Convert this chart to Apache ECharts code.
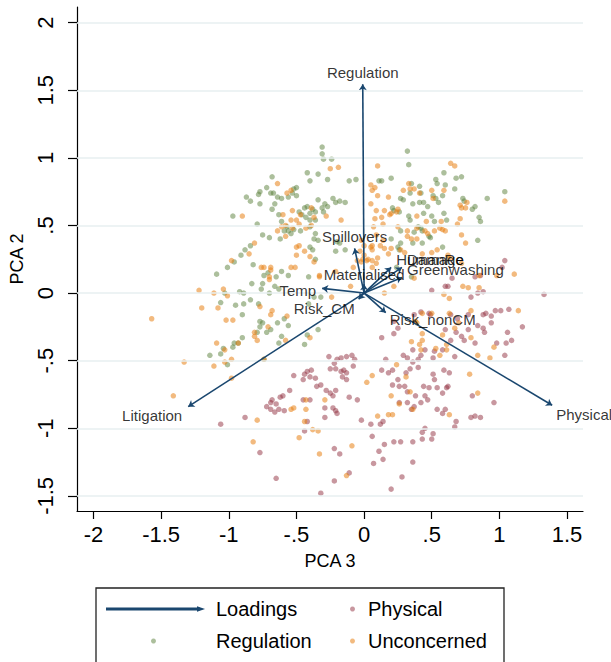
<!DOCTYPE html>
<html><head><meta charset="utf-8">
<script src="https://cdn.jsdelivr.net/npm/echarts@6/dist/echarts.min.js"></script>
<style>html,body{margin:0;padding:0;background:#fff}#c{width:611px;height:662px}</style>
</head><body><div id="c"></div>
<script>
// ---- tick values and labels ----
const xTicks = [-2, -1.5, -1, -0.5, 0, 0.5, 1, 1.5];
const xTickLabels = ['-2', '-1.5', '-1', '-.5', '0', '.5', '1', '1.5'];
const yTicks = [-1.5, -1, -0.5, 0, 0.5, 1, 1.5, 2];
const yTickLabels = ['-1.5', '-1', '-.5', '0', '.5', '1', '1.5', '2'];

// ---- loadings (arrows) ----
const loadNames = ['Regulation', 'Litigation', 'Physical', 'Temp', 'Spillovers', 'Materialised', 'HumanRe', 'Damage', 'Greenwashing', 'Risk_CM', 'Risk_nonCM'];
const loadX = [-0.01, -1.30, 1.39, -0.31, -0.07, 0.00, 0.20, 0.28, 0.28, -0.04, 0.16];
const loadY = [1.545, -0.84, -0.83, 0.035, 0.33, 0.065, 0.19, 0.19, 0.115, -0.045, -0.145];

// ---- scores by group ----
const regulationPts = [
[-0.31,1.08],[-0.31,1.03],[-0.30,0.99],[-0.24,0.99],[-0.42,0.89],[-0.34,0.88],[-0.40,0.83],[-0.27,0.84],[-0.68,0.86],[-0.72,0.78],[-0.77,0.75],[-0.78,0.73],[-0.69,0.74],[-0.67,0.74],[-0.64,0.71],[-0.61,0.70],[-0.56,0.71],[-0.53,0.74],[-0.52,0.77],[-0.50,0.78],[-0.50,0.72],[-0.87,0.71],[-0.84,0.68],[-0.77,0.66],[-0.66,0.66],[-0.68,0.62],[-0.34,0.69],[-0.23,0.70],[-0.21,0.67],[-0.18,0.68],[-0.14,0.67],[-0.29,0.66],[-0.31,0.63],[-0.27,0.64],[-0.44,0.63],[-0.42,0.64],[-0.38,0.62],[-0.36,0.60],[-0.40,0.59],[-0.30,0.60],[-0.63,0.58],[-0.61,0.53],[-0.48,0.60],[-0.46,0.58],[-0.43,0.56],[-0.40,0.54],[-0.40,0.49],[-0.36,0.54],[-0.97,0.57],[-0.79,0.51],[-0.75,0.43],[-0.70,0.41],[-0.62,0.40],[-0.54,0.44],[-0.52,0.47],[-0.59,0.46],[-0.57,0.49],[-0.56,0.46],[-0.47,0.46],[-0.36,0.44],[-0.37,0.40],[-0.34,0.39],[-0.40,0.34],[-0.38,0.32],[-0.36,0.25],[-0.20,0.38],[-0.18,0.37],[-0.14,0.32],[-0.21,0.31],[-0.11,0.83],[-0.06,0.84],[0.11,0.83],[-0.84,0.35],[-0.88,0.32],[-0.91,0.28],[-0.96,0.23],[-1.01,0.19],[-1.09,0.14],[-0.82,0.21],[-0.74,0.13],[-0.71,0.15],[-0.65,0.12],[-0.61,0.16],[-0.56,0.13],[-0.41,0.12],[-0.83,0.07],[-0.75,0.07],[-0.76,0.03],[-0.66,0.05],[-0.63,0.03],[-0.70,0.00],[-1.03,0.00],[-0.92,0.01],[-0.89,0.00],[-1.06,-0.07],[-0.95,-0.09],[-0.89,-0.08],[-0.84,-0.05],[-0.78,-0.08],[-0.41,-0.08],[-0.37,-0.03],[-0.32,-0.03],
[0.32,1.05],[0.33,0.95],[0.59,0.89],[0.53,0.84],[0.54,0.81],[0.60,0.80],[0.68,0.85],[0.72,0.86],[0.67,0.77],[0.41,0.79],[0.34,0.74],[0.35,0.81],[0.27,0.70],[0.29,0.69],[0.36,0.66],[0.42,0.74],[0.41,0.67],[0.44,0.67],[0.47,0.64],[0.51,0.72],[0.53,0.70],[0.55,0.67],[0.58,0.72],[0.59,0.59],[0.44,0.59],[0.50,0.57],[0.52,0.53],[0.61,0.54],[0.33,0.57],[0.34,0.54],[0.20,0.85],[0.13,0.83],[0.73,0.70],[0.74,0.68],[0.80,0.62],[0.82,0.64],[0.85,0.56],[0.86,0.53],[0.91,0.70],[1.04,0.75],[0.21,0.63],[0.22,0.61],[0.26,0.60],[0.27,0.46],[0.37,0.45],[0.40,0.49],[0.42,0.48],[0.43,0.46],[0.48,0.42],[0.49,0.41],[0.84,0.39],[0.58,0.34],[0.43,0.37],[0.36,0.37],[0.27,0.37],[0.25,0.34],[0.24,0.19],[0.35,0.12],[0.26,0.32],[0.20,0.40],
[-0.90,-0.16],[-0.77,-0.21],[-0.75,-0.22],[-0.77,-0.25],[-0.79,-0.29],[-0.72,-0.29],[-0.69,-0.27],[-0.64,-0.22],[-0.59,-0.19],[-0.56,-0.24],[-0.61,-0.32],[-0.63,-0.37],[-0.90,-0.33],[-0.96,-0.37],[-0.93,-0.37],[-0.97,-0.40],[-1.04,-0.41],[-1.06,-0.45],[-1.14,-0.46],[-1.01,-0.53],[-0.74,-0.49],[-0.44,-0.38],[-0.42,-0.31],[-0.34,-0.27]
];
const unconcernedPts = [
[-0.64,0.81],[-0.57,0.74],[-0.54,0.76],[-0.90,0.57],[-0.60,0.58],[-0.54,0.54],[-0.50,0.54],[-0.47,0.58],[-0.39,0.63],[-0.37,0.56],[-0.53,0.61],[-0.28,0.57],[-0.17,0.54],[-0.61,0.49],[-0.58,0.50],[-0.53,0.48],[-0.48,0.51],[-0.43,0.48],[-0.39,0.50],[-0.64,0.46],[-0.58,0.42],[-0.50,0.34],[-0.48,0.35],[-0.50,0.28],[-0.40,0.27],[-0.37,0.23],[-0.44,0.31],[-0.81,0.37],[-0.85,0.29],[-0.98,0.24],[-0.76,0.19],[-0.74,0.19],[-0.69,0.19],[-0.69,0.17],[-0.54,0.19],[-0.51,0.19],[-0.70,0.12],[-0.70,0.10],[-0.33,0.13],[-0.21,0.16],[-0.10,0.05],[-0.08,0.19],[-0.02,0.23],[-0.05,0.24],[-0.01,0.25],[0.02,0.24],[-0.03,0.31],[0.00,0.28],[0.03,0.25],[0.06,0.24],[0.09,0.22],[0.06,0.19],[0.10,0.26],[0.06,0.32],[0.05,0.34],[-0.02,0.39],[0.00,0.35],[0.06,0.35],[0.12,0.35],[0.09,0.43],[0.07,0.49],[0.08,0.55],[0.09,0.61],[0.05,0.66],[0.10,0.72],[0.06,0.76],[0.08,0.78],[0.05,0.80],[0.10,0.94],[-0.19,0.93],[-0.25,0.92],[-1.22,0.02],[-0.24,-0.03],[-1.04,0.03],[-1.11,0.00],[-1.01,-0.02],[-1.20,-0.11],[-1.08,-0.11],[-0.77,-0.10],[-0.33,0.12],
[0.64,0.96],[0.67,0.94],[0.33,0.81],[0.34,0.77],[0.37,0.77],[0.29,0.76],[0.18,0.71],[0.41,0.74],[0.50,0.76],[0.59,0.76],[0.51,0.70],[0.76,0.67],[0.71,0.65],[0.75,0.63],[0.72,0.63],[1.04,0.68],[0.25,0.62],[0.24,0.60],[0.20,0.59],[0.15,0.61],[0.13,0.56],[0.19,0.58],[0.39,0.57],[0.46,0.53],[0.57,0.53],[0.71,0.55],[0.69,0.51],[0.14,0.51],[0.25,0.49],[0.32,0.46],[0.39,0.48],[0.45,0.46],[0.47,0.44],[0.52,0.46],[0.56,0.48],[0.58,0.47],[0.60,0.46],[0.72,0.43],[0.75,0.37],[0.32,0.42],[0.35,0.40],[0.39,0.40],[0.14,0.39],[0.15,0.33],[0.20,0.33],[0.27,0.32],[0.30,0.30],[0.18,0.29],[0.43,0.29],[0.50,0.30],[0.54,0.32],[0.62,0.28],[0.63,0.26],[0.72,0.22],[0.37,0.11],[0.22,0.05],[0.15,0.00],[0.98,0.13],[1.11,0.14],[0.73,0.05],[0.77,0.04],[0.85,0.04],[0.85,0.13],[0.59,-0.01],[0.63,-0.04],
[0.43,-0.15],[0.50,-0.15],[0.63,-0.15],[0.79,-0.13],[0.79,-0.33],[0.70,-0.22],[0.67,-0.26],[0.58,-0.31],[0.43,-0.30],[0.43,-0.35],[0.41,-0.38],[0.42,-0.42],[0.35,-0.36],[0.38,-0.21],[0.39,-0.22],[0.53,-0.41],[0.56,-0.46],[0.61,-0.38],[0.61,-0.42],[0.84,-0.46],[0.93,-0.48],[0.96,-0.40],[0.24,-0.53],[0.31,-0.62],[0.34,-0.73],[0.20,-0.76],[0.26,-0.82],[0.18,-0.90],[0.21,-0.90],[0.36,-0.86],[0.63,-0.90],[0.78,-0.60],[0.84,-0.74],[1.14,-0.13],
[-0.43,-0.79],[-0.29,-0.79],[-0.52,-0.85],[-0.54,-0.86],[-0.43,-0.86],[-0.44,-0.95],[-0.38,-1.01],[-0.34,-1.02],[-0.48,-1.07],[-0.82,-1.10],[-0.79,-0.94],[-0.33,-1.19],[-0.13,-1.35],[-0.09,-1.13],[0.02,-0.66],[0.06,-0.61],[0.10,-0.91],
[-1.02,-0.20],[-0.97,-0.20],[-0.68,-0.13],[-0.69,-0.16],[-0.57,-0.17],[-0.71,-0.25],[-0.81,-0.32],[-0.79,-0.35],[-0.81,-0.29],[-0.58,-0.35],[-0.40,-0.33],[-1.09,-0.37],[-1.03,-0.42],[-1.03,-0.51],[-0.98,-0.49],[-1.11,-0.54],[-0.93,-0.37],[-1.33,-0.51],[-0.98,-0.63],[-0.74,-0.49],
[-1.57,-0.19],[-1.41,-0.76]
];
const physicalPts = [
[1.04,0.24],[0.65,0.11],[0.82,0.12],[0.86,0.13],[0.50,0.02],[0.60,0.05],[0.62,0.05],[0.79,-0.03],[0.84,0.00],[0.88,0.01],[1.02,0.19],[1.33,-0.01],
[0.42,-0.14],[0.48,-0.15],[0.37,-0.16],[0.49,-0.16],[0.64,-0.16],[0.69,-0.19],[0.77,-0.16],[0.88,-0.16],[0.90,-0.15],[0.97,-0.13],[0.94,-0.17],[1.01,-0.13],[1.07,-0.12],[1.17,-0.25],[1.06,-0.29],[1.09,-0.35],[1.05,-0.37],[0.98,-0.37],[0.77,-0.27],[0.84,-0.24],[0.88,-0.26],[0.94,-0.22],[0.89,-0.29],[0.72,-0.32],[0.74,-0.35],[0.82,-0.37],[0.60,-0.27],[0.68,-0.29],[0.64,-0.35],[0.58,-0.42],[0.52,-0.43],[0.51,-0.48],[0.45,-0.42],[0.42,-0.46],[0.36,-0.42],[0.29,-0.46],[0.32,-0.48],[0.36,-0.51],[0.40,-0.49],[0.40,-0.55],[0.34,-0.56],[0.31,-0.59],[0.25,-0.64],[0.21,-0.57],[0.18,-0.59],[0.16,-0.49],[0.13,-0.57],[0.26,-0.69],[0.21,-0.68],[0.30,-0.69],[0.32,-0.73],[0.26,-0.81],[0.32,-0.81],[0.35,-0.86],[0.37,-0.84],[0.38,-0.76],[0.42,-0.81],[0.45,-0.76],[0.47,-0.79],[0.44,-0.69],[0.48,-0.70],[0.54,-0.70],[0.58,-0.74],[0.61,-0.70],[0.62,-0.69],[0.59,-0.57],[0.63,-0.59],[0.51,-0.60],[0.52,-0.64],[0.67,-0.47],[0.80,-0.76],[0.68,-0.95],[0.67,-0.99],[0.54,-0.86],[0.58,-0.89],[0.60,-0.86],[0.45,-1.00],[0.43,-1.03],[0.51,-1.04],[0.50,-1.08],[0.43,-1.08],[0.36,-1.10],[0.27,-1.10],[0.22,-1.10],[0.79,-0.92],[0.82,-0.91],[0.86,-0.92],[0.96,-0.81],[0.20,-1.45],[0.28,-1.36],[0.36,-1.25],[0.14,-1.23],[0.15,-1.12],[0.14,-0.95],[0.22,-0.30],[0.25,-0.26],[0.22,-0.21],[0.13,-0.33],[1.04,-0.46],
[-0.26,-0.47],[-0.22,-0.52],[-0.20,-0.49],[-0.17,-0.48],[-0.13,-0.47],[-0.09,-0.46],[-0.07,-0.49],[-0.08,-0.54],[-0.21,-0.56],[-0.25,-0.56],[-0.15,-0.57],[-0.17,-0.58],[-0.13,-0.59],[-0.16,-0.62],[-0.13,-0.64],[-0.42,-0.58],[-0.39,-0.57],[-0.44,-0.60],[-0.40,-0.62],[-0.45,-0.64],[-0.36,-0.63],[-0.52,-0.61],[-0.32,-0.68],[-0.35,-0.69],[-0.28,-0.72],[-0.21,-0.72],[-0.25,-0.74],[-0.23,-0.76],[-0.11,-0.77],[-0.05,-0.79],[-0.55,-0.72],[-0.60,-0.76],[-0.62,-0.77],[-0.68,-0.79],[-0.69,-0.81],[-0.65,-0.82],[-0.72,-0.84],[-0.69,-0.86],[-0.66,-0.88],[-0.63,-0.86],[-0.59,-0.87],[-0.45,-0.79],[-0.40,-0.79],[-0.29,-0.85],[-0.23,-0.85],[-0.21,-0.87],[-0.20,-0.89],[-0.29,-0.92],[-0.42,-0.95],[-0.44,-1.02],[-0.02,-0.94],[0.05,-0.97],[0.12,-0.97],[0.06,-1.06],[0.11,-1.17],[0.07,-1.26],[-0.22,-1.15],[-0.18,-1.19],[-0.88,-0.92],[-1.06,-0.97],[-0.77,-1.18],[-0.22,-1.39],[-0.11,-1.33],[-0.65,-1.37],[-0.32,-1.48]
];

// ---- styles ----
const FONT = '"Liberation Sans", Arial, Helvetica, sans-serif';
const NAVY = '#1a476f';
const labelStyleByName = {
  Regulation:   { position: 'top', distance: 4 },
  Litigation:   { position: 'left', distance: 6, offset: [0, 9] },
  Physical:     { position: 'right', distance: 4, offset: [0, 9] },
  Temp:         { position: 'left', distance: 6, offset: [0, 2] },
  Spillovers:   { position: 'top', distance: 4 },
  Materialised: { position: 'top', distance: 2 },
  HumanRe:      { position: 'right', distance: 5, offset: [0, -8] },
  Damage:       { position: 'right', distance: 5, offset: [0, -8] },
  Greenwashing: { position: 'right', distance: 5, offset: [0, -8] },
  Risk_CM:      { position: 'left', distance: 4, offset: [0, 9] },
  Risk_nonCM:   { position: 'right', distance: 4, offset: [0, 7] }
};
function fmt(ticks, labels) {
  return function (v) {
    for (let i = 0; i < ticks.length; i++) if (Math.abs(ticks[i] - v) < 1e-9) return labels[i];
    return '';
  };
}

const chart = echarts.init(document.getElementById('c'), null, { renderer: 'svg', width: 611, height: 662 });
const dot = (name, color) => ({
  type: 'scatter', name: name, symbol: 'circle', symbolSize: 5.5, z: 3,
  itemStyle: { color: color, borderWidth: 0 },
  data: ({ Physical: physicalPts, Regulation: regulationPts, Unconcerned: unconcernedPts })[name]
});
const legendText = (pad) => ({ fontSize: 20, color: '#000', fontFamily: FONT, padding: [0, 0, 0, pad] });

const option = {
  animation: false,
  backgroundColor: '#ffffff',
  textStyle: { fontFamily: FONT },
  grid: { left: 77, right: 28, top: 7, bottom: 151, containLabel: false },
  xAxis: {
    type: 'value', min: -2.122, max: 1.618,
    name: 'PCA 3', nameLocation: 'middle', nameGap: 41,
    nameTextStyle: { fontSize: 18, color: '#000', fontFamily: FONT },
    axisLine: { show: true, onZero: false, lineStyle: { color: '#000', width: 1.2 } },
    axisTick: { show: true, length: 8, customValues: xTicks, lineStyle: { color: '#000', width: 1.2 } },
    axisLabel: { customValues: xTicks, formatter: fmt(xTicks, xTickLabels), fontSize: 22, color: '#000', margin: 12, fontFamily: FONT },
    splitLine: { show: false }
  },
  yAxis: {
    type: 'value', min: -1.612, max: 2.116,
    name: 'PCA 2', nameLocation: 'middle', nameGap: 40, nameRotate: 90,
    nameTextStyle: { fontSize: 18, color: '#000', fontFamily: FONT },
    axisLine: { show: true, onZero: false, lineStyle: { color: '#000', width: 1.2 } },
    axisTick: { show: true, length: 9, customValues: yTicks, lineStyle: { color: '#000', width: 1.2 } },
    axisLabel: { customValues: yTicks, formatter: fmt(yTicks, yTickLabels), rotate: 90, fontSize: 22, color: '#000', margin: 21, fontFamily: FONT },
    splitLine: { show: false }
  },
  legend: [
    { data: [{ name: 'Loadings', icon: 'path://M0,4.6L91,4.6L91,3.6L95,5L91,6.4L91,5.4L0,5.4Z' }], left: 106, top: 599, padding: 0, itemWidth: 95, itemHeight: 3, selectedMode: false,
      textStyle: legendText(9) },
    { data: [{ name: 'Physical', icon: 'circle' }], left: 350, top: 599, padding: 0, itemWidth: 5, itemHeight: 5, selectedMode: false,
      textStyle: legendText(8) },
    { data: [{ name: 'Regulation', icon: 'circle' }], left: 151, top: 631, padding: 0, itemWidth: 5, itemHeight: 5, selectedMode: false,
      textStyle: legendText(55) },
    { data: [{ name: 'Unconcerned', icon: 'circle' }], left: 350, top: 631, padding: 0, itemWidth: 5, itemHeight: 5, selectedMode: false,
      textStyle: legendText(8) }
  ],
  graphic: [
    { type: 'rect', silent: true, shape: { x: 96, y: 588, width: 408, height: 100 }, style: { fill: 'none', stroke: '#222', lineWidth: 1.3 } }
  ],
  series: [
    {
      type: 'scatter', name: 'gridlines', data: [], silent: true, z: 1,
      markLine: {
        silent: true, symbol: ['none', 'none'], animation: false,
        label: { show: false },
        lineStyle: { color: '#e7eff1', width: 1.6, type: 'solid' },
        data: yTicks.map(v => ({ yAxis: v }))
      }
    },
    dot('Physical', 'rgba(144,45,60,0.62)'),
    dot('Regulation', 'rgba(88,125,55,0.62)'),
    dot('Unconcerned', 'rgba(232,128,20,0.68)'),
    {
      type: 'lines', name: 'Loadings', coordinateSystem: 'cartesian2d', z: 5,
      symbol: ['none', 'arrow'], symbolSize: 6,
      itemStyle: { color: NAVY },
      lineStyle: { color: NAVY, width: 1.6, opacity: 1 },
      data: loadNames.map((n, i) => ({ name: n, coords: [[0, 0], [loadX[i], loadY[i]]] }))
    },
    {
      type: 'scatter', name: 'loadingLabels', symbolSize: 0.1, z: 6, silent: true,
      itemStyle: { color: 'rgba(0,0,0,0)' },
      label: { show: true, formatter: '{b}', color: '#000', fontSize: 15, fontFamily: FONT },
      data: loadNames.map((n, i) => ({ name: n, value: [loadX[i], loadY[i]], label: labelStyleByName[n] }))
    }
  ]
};
chart.setOption(option);
</script>
</body></html>
